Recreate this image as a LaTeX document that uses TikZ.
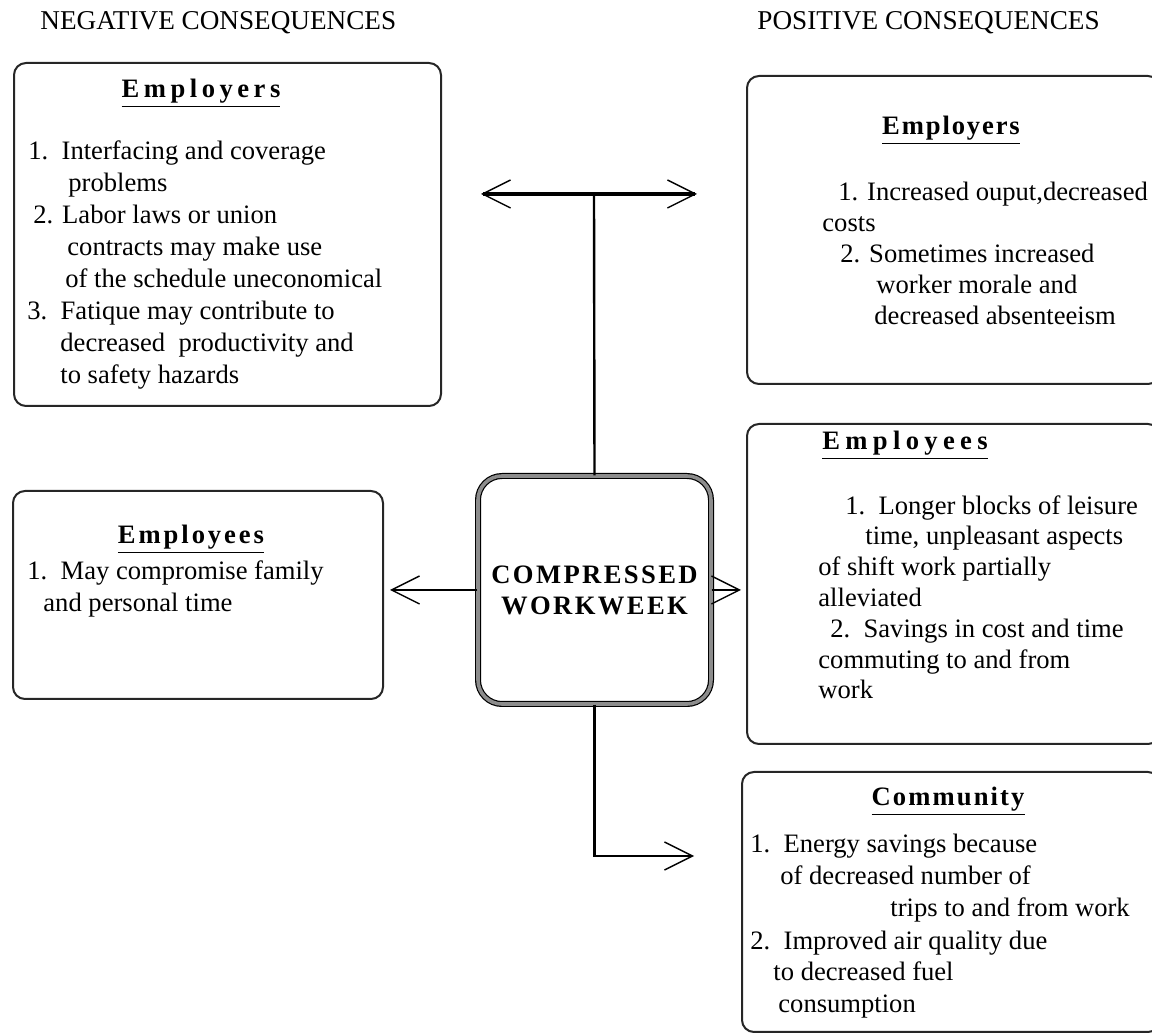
\documentclass[tikz,border=0pt]{standalone}
\usepackage{fontspec}
\setmainfont{Liberation Serif}
\usetikzlibrary{arrows.meta}

\newcommand\headtxt[2]{{\addfontfeature{LetterSpace=#1}\underline{#2}}}

\tikzset{
  panel/.style={draw=black!85, line width=1pt, rounded corners=6pt, anchor=north west, inner sep=0pt},
  hub/.style={draw=black, line width=0.6pt, double=black!45, double distance=1.8pt, rounded corners=12pt,
    minimum width=116.5pt, minimum height=114pt, align=center, inner sep=0pt,
    font=\fontsize{13.3}{15.5}\selectfont\bfseries\addfontfeature{LetterSpace=9}},
  boxhead/.style={anchor=base, inner sep=0pt, font=\fontsize{13.3}{16}\selectfont\bfseries},
  boxtext/.style={anchor=base west, align=left, inner sep=0pt, font=\fontsize{13.3}{16}\selectfont},
  caption/.style={anchor=base west, inner sep=0pt, font=\fontsize{13.6}{16}\selectfont},
  link/.style={line width=1.2pt},
  chev/.style={line width=1.3pt, -{Straight Barb[length=14pt,width=14pt,line width=0.7pt]}},
}

\begin{document}
\begin{tikzpicture}[x=0.5pt, y=-0.5pt]
  \useasboundingbox (0,0) rectangle (1152,1036);
  \clip (0,0) rectangle (1152,1036);

  % column captions
  \node[caption] (negcap) at (40,30)  {NEGATIVE CONSEQUENCES};
  \node[caption] (poscap) at (757,30) {POSITIVE CONSEQUENCES};

  % negative side (text nodes sit on the baseline of their last line)
  \node[panel, minimum width=213.5pt, minimum height=171.5pt] (negemp) at (13,62) {};
  \node[boxhead] (negemph) at (201,98) {\headtxt{17}{Employers}};
  \node[boxtext] (negempt) at (27,384) {%
    \hspace*{0.5pt}1.\ \ Interfacing and coverage\\
    \hspace*{20.5pt}problems\\
    \hspace*{3pt}2. Labor laws or union\\
    \hspace*{20pt}contracts may make use\\
    \hspace*{19pt}of the schedule uneconomical\\
    3.\ \ Fatique may contribute to\\
    \hspace*{16.5pt}decreased\ \ productivity and\\
    \hspace*{16.5pt}to safety hazards};

  \node[panel, minimum width=185pt, minimum height=104pt] (negwrk) at (12,490) {};
  \node[boxhead] (negwrkh) at (191,544) {\headtxt{11}{Employees}};
  \node[boxtext] (negwrkt) at (27,612) {%
    1.\ \ May compromise family\\
    \hspace*{8pt}and personal time};

  % positive side
  \node[panel, minimum width=206.5pt, minimum height=154pt] (posemp) at (746,75) {};
  \node[boxhead] (posemph) at (951,135) {\headtxt{7}{Employers}};
  \node[boxtext, font=\fontsize{13.3}{15.5}\selectfont] (posempt) at (822,325) {%
    \hspace*{8pt}1. Increased ouput,decreased\\
    costs\\
    \hspace*{9pt}2. Sometimes increased\\
    \hspace*{27pt}worker morale and\\
    \hspace*{26pt}decreased absenteeism};

  \node[panel, minimum width=206.5pt, minimum height=160pt] (poswrk) at (746,423) {};
  \node[boxhead] (poswrkh) at (905,450) {\headtxt{20}{Employees}};
  \node[boxtext, font=\fontsize{13.3}{15.4}\selectfont] (poswrkt) at (818,699) {%
    \hspace*{13.5pt}1.\ \ Longer blocks of leisure\\
    \hspace*{23.5pt}time, unpleasant aspects\\
    of shift work partially\\
    alleviated\\
    \hspace*{6pt}2.\ \ Savings in cost and time\\
    commuting to and from\\
    work};

  \node[panel, minimum width=209pt, minimum height=130pt] (poscom) at (741,771) {};
  \node[boxhead] (poscomh) at (948,806) {\headtxt{8}{Community}};
  \node[boxtext] (poscomt) at (750,1013) {%
    1.\ \ Energy savings because\\
    \hspace*{15pt}of decreased number of\\
    \hspace*{70pt}trips to and from work\\
    2.\ \ Improved air quality due\\
    \hspace*{11.5pt}to decreased fuel\\
    \hspace*{14pt}consumption};

  % centre
  \node[hub] (hub) at (594.5,590) {COMPRESSED\\WORKWEEK};

  \coordinate (fork)   at (594,194);
  \coordinate (forkL)  at (481,194);
  \coordinate (forkR)  at (697,194);
  \coordinate (negIn)  at (390,590);
  \coordinate (posIn)  at (741,590);
  \coordinate (commIn) at (694,856);

  \draw[link] (hub.north) -- (fork);
  \draw[line width=2pt, {Straight Barb[length=14pt,width=14pt,line width=0.7pt]}-{Straight Barb[length=14pt,width=14pt,line width=0.7pt]}] (forkL) -- (forkR);
  \draw[chev] (hub.west) -- (negIn);
  \draw[chev] (hub.east) -- (posIn);
  \draw[chev] (hub.south) |- (commIn);
\end{tikzpicture}
\end{document}
